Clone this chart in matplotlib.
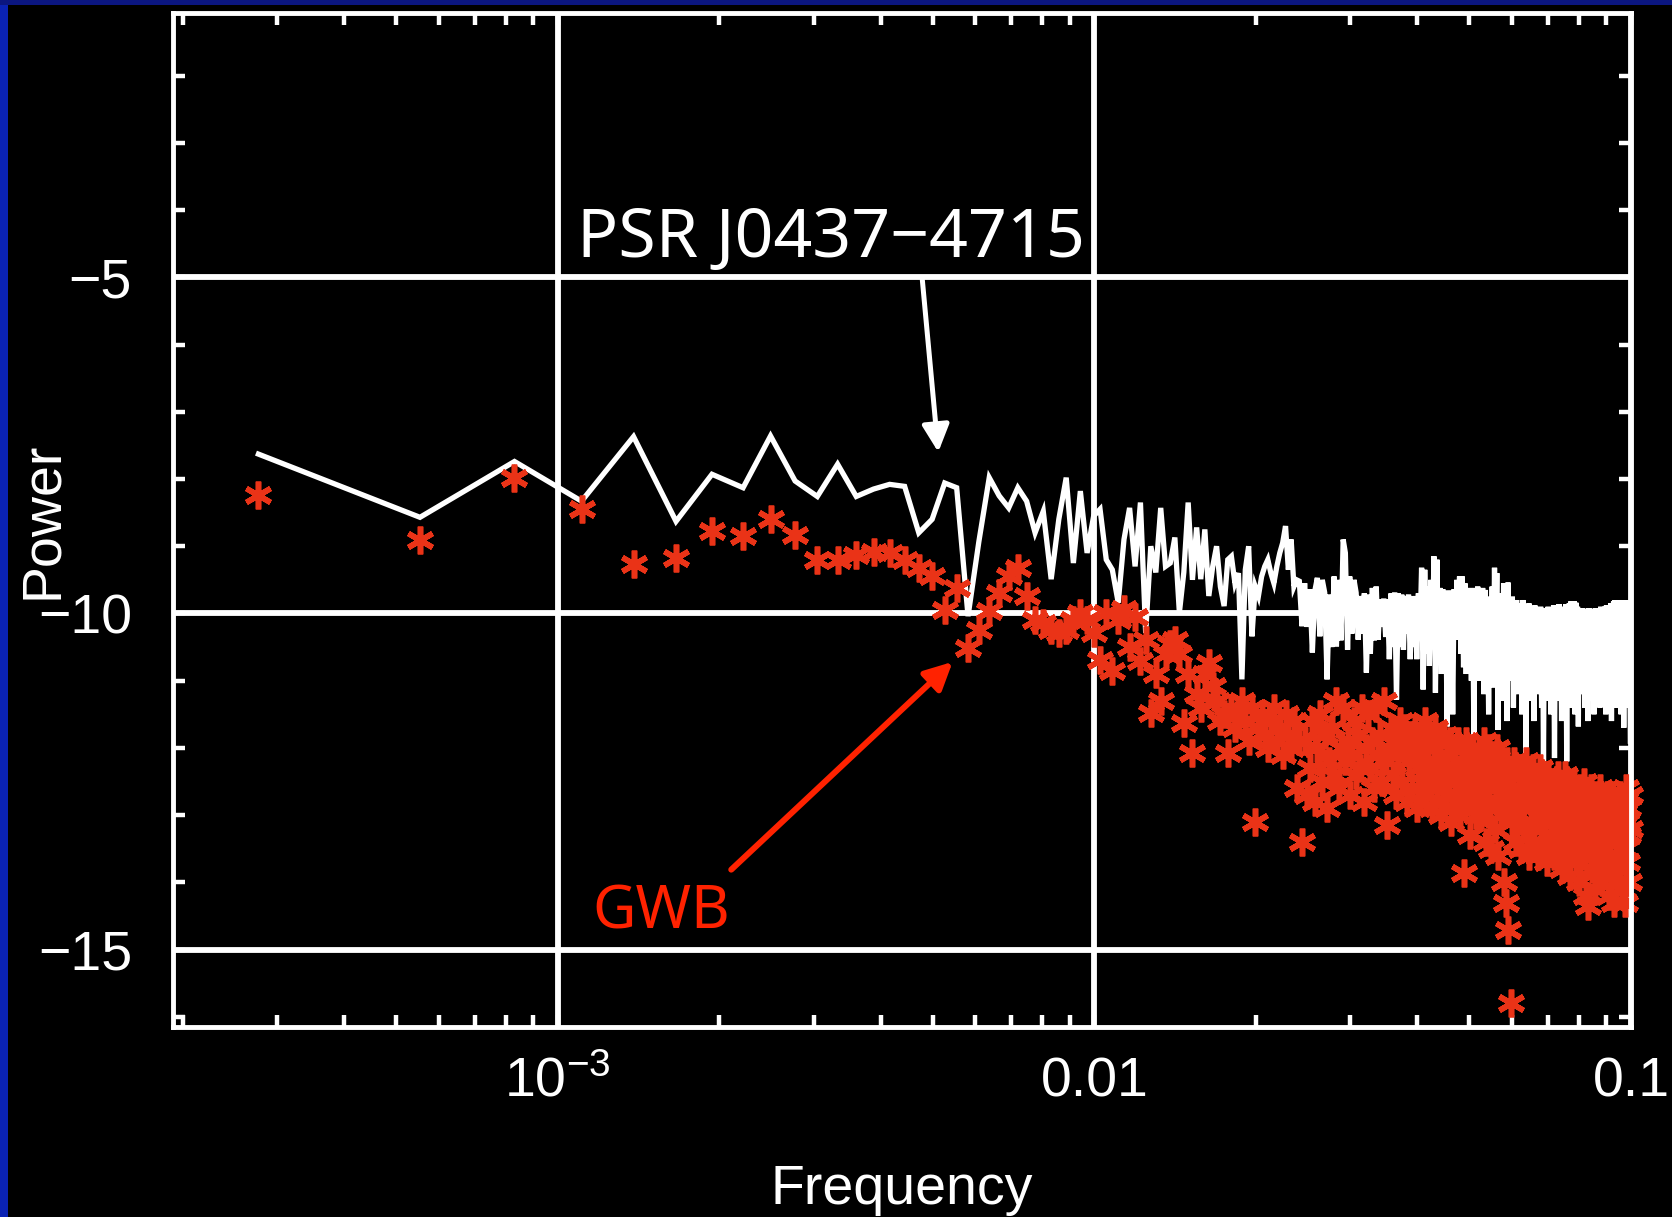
import numpy as np
import matplotlib
matplotlib.use("Agg")
import matplotlib.pyplot as plt
from matplotlib.ticker import FixedLocator, FixedFormatter, LogLocator, MultipleLocator, NullFormatter
from matplotlib.patches import Rectangle

# ---------------- data ----------------
F0 = 2.77e-4                      # fundamental frequency of the periodogram
harmonic = np.arange(1, 361)      # harmonic number k -> frequency k*F0
freq = harmonic * F0

psr_power = [
    -7.63, -8.57, -7.74, -8.33, -7.37, -8.63, -7.93, -8.13, -7.36, -8.03,
    -8.26, -7.78, -8.26, -8.15, -8.08, -8.11, -8.80, -8.60, -8.06, -8.13,
    -10.04, -8.93, -7.98, -8.25, -8.43, -8.13, -8.33, -8.80, -8.48, -9.49,
    -8.60, -7.98, -9.25, -8.18, -9.10, -8.55, -8.45, -9.20, -9.35, -9.84,
    -8.90, -8.43, -9.30, -8.35, -10.29, -9.00, -9.39, -8.43, -9.30, -9.25,
    -8.87, -9.99, -9.39, -8.35, -9.50, -8.72, -9.49, -8.75, -9.74, -9.30,
    -9.00, -9.60, -9.89, -9.20, -9.15, -9.55, -9.40, -10.98, -9.35, -9.00,
    -10.34, -9.60, -9.74, -9.45, -9.30, -9.20, -9.40, -9.55, -9.30, -9.10,
    -8.95, -8.70, -9.35, -8.90, -9.60, -9.50, -9.52, -10.19, -9.55, -10.20,
    -9.64, -10.58, -9.66, -9.47, -10.34, -9.50, -9.69, -10.98, -9.72, -10.50,
    -9.45, -10.49, -9.50, -10.40, -8.90, -9.10, -10.54, -9.45, -10.30, -9.50,
    -9.69, -10.39, -9.74, -10.30, -9.70, -10.88, -9.72, -10.60, -9.62, -10.40,
    -9.60, -10.39, -9.79, -10.20, -9.78, -10.35, -9.79, -10.68, -9.70, -10.50,
    -9.69, -11.28, -9.70, -10.50, -9.72, -10.54, -9.74, -10.30, -9.72, -10.68,
    -9.75, -10.50, -9.74, -10.68, -9.70, -10.30, -9.32, -11.13, -9.35, -10.60,
    -9.60, -10.78, -9.50, -10.50, -9.15, -11.18, -9.20, -10.70, -9.62, -10.90,
    -9.64, -10.50, -9.69, -11.68, -9.66, -10.60, -9.69, -11.50, -9.64, -10.39,
    -9.50, -10.35, -9.45, -10.60, -9.45, -10.80, -9.55, -10.90, -9.64, -10.70,
    -9.62, -11.00, -9.64, -11.87, -9.62, -10.90, -9.60, -11.00, -9.70, -10.90,
    -9.62, -11.20, -9.65, -10.70, -9.80, -11.50, -9.75, -10.80, -9.60, -11.10,
    -9.32, -10.60, -9.40, -11.73, -9.70, -10.90, -9.85, -11.30, -9.55, -10.70,
    -9.60, -11.60, -9.54, -10.80, -9.80, -11.00, -9.75, -11.40, -9.85, -10.70,
    -9.80, -11.20, -9.90, -10.90, -9.85, -11.50, -9.80, -10.80, -9.90, -12.20,
    -9.92, -10.90, -9.85, -11.30, -9.90, -11.00, -9.95, -11.60, -9.88, -10.90,
    -9.92, -11.20, -9.95, -10.95, -9.90, -11.40, -9.93, -12.20, -9.92, -11.00,
    -9.95, -11.30, -9.90, -10.90, -9.94, -11.50, -9.92, -11.10, -9.88, -12.15,
    -9.94, -10.90, -9.90, -11.30, -9.86, -10.80, -9.94, -11.60, -9.90, -10.90,
    -9.92, -11.20, -9.86, -12.20, -9.90, -10.95, -9.85, -11.40, -9.82, -10.80,
    -9.85, -11.10, -9.82, -11.50, -9.84, -10.90, -9.90, -11.68, -9.94, -10.85,
    -9.94, -11.20, -9.92, -10.90, -9.94, -11.40, -9.93, -11.00, -9.94, -11.60,
    -9.92, -10.80, -9.94, -11.30, -9.93, -10.90, -9.95, -11.50, -9.94, -11.00,
    -9.92, -11.20, -9.94, -10.80, -9.93, -11.40, -9.90, -10.95, -9.92, -11.30,
    -9.94, -10.90, -9.90, -11.50, -9.88, -10.85, -9.92, -11.20, -9.90, -10.80,
    -9.85, -11.60, -9.88, -10.90, -9.82, -11.10, -9.80, -11.40, -9.84, -10.75,
    -9.82, -11.30, -9.80, -10.90, -9.85, -11.50, -9.82, -11.00, -9.80, -11.70,
    -9.84, -10.90, -9.86, -11.20, -9.80, -10.80, -9.85, -11.40, -9.88, -11.90,
]

gwb_power = [
    -8.24, -8.90, -7.99, -8.45, -9.27, -9.17, -8.78, -8.85, -8.60, -8.83,
    -9.20, -9.20, -9.13, -9.08, -9.10, -9.20, -9.32, -9.45, -9.95, -9.62,
    -10.51, -10.24, -9.97, -9.69, -9.44, -9.32, -9.74, -10.09, -10.14, -10.24,
    -10.29, -10.24, -10.09, -9.99, -10.09, -10.29, -10.69, -10.00, -10.85, -10.10,
    -9.94, -10.50, -10.05, -10.70, -10.40, -11.48, -10.90, -11.30, -10.60, -10.45,
    -10.39, -10.60, -11.63, -10.90, -12.07, -11.20, -11.40, -10.90, -10.74, -11.08,
    -11.30, -11.60, -11.50, -12.07, -11.40, -11.70, -11.50, -11.30, -11.60, -11.90,
    -11.40, -13.10, -11.70, -11.50, -11.80, -12.00, -11.60, -11.40, -11.90, -11.70,
    -12.10, -11.50, -11.80, -12.00, -11.60, -12.60, -11.90, -13.40, -11.90, -12.70,
    -12.30, -11.60, -12.80, -12.00, -11.50, -12.50, -11.80, -12.90, -12.20, -11.70,
    -12.40, -11.30, -12.60, -12.00, -11.40, -12.20, -11.90, -12.70, -12.10, -11.60,
    -12.40, -11.80, -12.30, -11.40, -12.80, -12.00, -11.50, -12.30, -11.90, -12.60,
    -11.40, -12.10, -11.80, -12.50, -11.30, -12.20, -13.14, -12.00, -11.70, -12.40,
    -11.90, -12.70, -12.10, -11.60, -12.50, -12.00, -11.70, -12.80, -12.20, -11.80,
    -12.60, -12.00, -11.70, -12.90, -12.30, -11.90, -12.50, -12.10, -11.60, -12.70,
    -12.20, -11.80, -12.40, -12.90, -12.00, -11.70, -12.60, -12.30, -11.90, -13.00,
    -12.40, -11.80, -12.70, -12.10, -12.50, -11.90, -13.10, -12.30, -12.00, -12.80,
    -12.40, -11.90, -13.00, -12.60, -12.20, -13.86, -12.50, -11.90, -12.80, -12.30,
    -13.30, -12.60, -12.00, -12.90, -12.40, -13.00, -12.20, -12.70, -12.10, -13.00,
    -12.50, -11.90, -12.80, -13.40, -12.30, -12.00, -12.90, -13.50, -12.40, -12.10,
    -13.20, -12.60, -12.00, -13.60, -12.80, -12.30, -13.00, -12.50, -14.00, -12.70,
    -14.30, -12.20, -14.70, -12.90, -12.40, -15.80, -13.10, -12.60, -12.20, -13.40,
    -12.80, -12.30, -13.00, -12.60, -13.50, -12.40, -12.90, -13.20, -12.50, -12.20,
    -13.30, -12.70, -13.60, -12.40, -12.90, -13.10, -12.30, -13.40, -12.80, -12.50,
    -13.00, -13.60, -12.60, -12.30, -13.20, -12.80, -13.50, -12.50, -12.90, -13.30,
    -12.60, -13.70, -12.40, -13.00, -12.70, -13.40, -12.50, -13.10, -12.80, -13.60,
    -12.60, -13.20, -12.90, -12.40, -13.50, -12.70, -13.00, -13.80, -12.60, -13.30,
    -12.80, -12.40, -13.60, -13.00, -12.70, -13.40, -12.90, -13.90, -12.60, -13.20,
    -12.80, -13.50, -12.50, -13.00, -13.70, -12.70, -13.30, -12.90, -14.00, -12.60,
    -13.20, -12.80, -13.60, -13.00, -12.50, -13.40, -12.90, -14.20, -13.10, -14.35,
    -12.70, -13.50, -13.00, -12.60, -13.80, -13.20, -12.80, -13.60, -13.00, -14.10,
    -12.70, -13.40, -12.90, -13.70, -13.10, -12.60, -13.50, -13.00, -14.00, -12.80,
    -13.30, -12.90, -13.80, -13.10, -12.70, -13.60, -13.00, -14.20, -12.90, -13.40,
    -12.80, -13.90, -13.20, -12.70, -14.30, -13.10, -12.90, -13.60, -13.00, -14.00,
    -12.80, -13.40, -13.10, -12.70, -13.80, -13.20, -12.90, -14.10, -13.00, -13.50,
    -12.80, -14.30, -13.10, -12.60, -13.70, -13.30, -12.90, -14.00, -13.20, -12.70,
]

x_tick_values = [1e-3, 1e-2, 1e-1]
x_tick_labels = [r"$\mathregular{10^{-3}}$", "0.01", "0.1"]
y_tick_values = [-15, -10, -5]
y_tick_labels = ["\u221215", "\u221210", "\u22125"]

# ---------------- style ----------------
plt.rcParams["font.family"] = ["Liberation Sans", "DejaVu Sans"]
plt.rcParams["mathtext.fontset"] = "custom"
plt.rcParams["mathtext.rm"] = "Liberation Sans"
plt.rcParams["axes.unicode_minus"] = True

W, H = 1672, 1217
fig = plt.figure(figsize=(W / 100, H / 100), dpi=100, facecolor="black")
fig.patches.append(Rectangle((0, 1 - 5 / H), 1, 5 / H, transform=fig.transFigure,
                             facecolor="#0b1680", edgecolor="none", zorder=0))
fig.patches.append(Rectangle((0, 0), 8 / W, 1 - 5 / H, transform=fig.transFigure,
                             facecolor="#0a22b4", edgecolor="none", zorder=0))

ax = fig.add_axes([173 / W, (H - 1027) / H, (1631 - 173) / W, (1027 - 13) / H])
ax.set_facecolor("black")
ax.set_xscale("log")
ax.set_xlim(1.92e-4, 0.1)
ax.set_ylim(-16.15, -1.07)

for s in ax.spines.values():
    s.set_color("white")
    s.set_linewidth(3.5)
    s.set_zorder(5)

ax.xaxis.set_major_locator(FixedLocator(x_tick_values))
ax.xaxis.set_major_formatter(FixedFormatter(x_tick_labels))
ax.xaxis.set_minor_locator(LogLocator(base=10, subs=np.arange(2, 10), numticks=50))
ax.xaxis.set_minor_formatter(NullFormatter())
ax.yaxis.set_major_locator(FixedLocator(y_tick_values))
ax.yaxis.set_major_formatter(FixedFormatter(y_tick_labels))
ax.yaxis.set_minor_locator(MultipleLocator(1))

ax.tick_params(which="both", direction="in", top=True, right=True,
               colors="white", width=3.2, length=8.6)
ax.tick_params(axis="y", which="major", pad=29.5, labelsize=40)
ax.tick_params(axis="x", which="major", pad=50, labelsize=40)
for lbl in ax.get_xticklabels():
    lbl.set_verticalalignment("baseline")

ax.grid(True, which="major", color="white", linewidth=4.2)
ax.set_axisbelow(True)

# ---------------- data marks ----------------
ax.plot(freq, psr_power, color="white", linewidth=3.8, zorder=3,
        solid_joinstyle="miter")
ax.plot(freq, gwb_power, linestyle="none", marker=(6, 2, 0), markersize=20,
        markeredgewidth=4.0, color="#ea3317", markeredgecolor="#ea3317",
        zorder=4, clip_on=False)

# ---------------- labels ----------------
ax.set_xlabel("Frequency", color="white", fontsize=40)
ax.xaxis.set_label_coords(0.5, -0.135)
ax.set_ylabel("Power", color="white", fontsize=40)
ax.yaxis.set_label_coords(-0.0713, 0.5)

ax.text(0.2771, 0.7594, "PSR J0437\u22124715", transform=ax.transAxes,
        fontsize=49, color="white", family=["Noto Sans", "DejaVu Sans"],
        ha="left", va="baseline", zorder=6)
ax.text(0.2874, 0.0976, "GWB", transform=ax.transAxes,
        fontsize=43, color="#ff2200", family=["Noto Sans", "DejaVu Sans"],
        ha="left", va="baseline", zorder=6)

ax.annotate("", xy=(5.12e-3, -7.60), xytext=(4.78e-3, -5.03),
            arrowprops=dict(arrowstyle="-|>,head_length=0.4,head_width=0.2",
                            color="white", lw=3.6, mutation_scale=41,
                            shrinkA=0, shrinkB=0), zorder=6)
ax.annotate("", xy=(5.445e-3, -10.72), xytext=(2.106e-3, -13.81),
            arrowprops=dict(arrowstyle="-|>,head_length=0.4,head_width=0.2",
                            color="#ff2200", lw=4.3, mutation_scale=41,
                            shrinkA=0, shrinkB=0), zorder=6)

fig.savefig("out.png", dpi=100, facecolor="black")
